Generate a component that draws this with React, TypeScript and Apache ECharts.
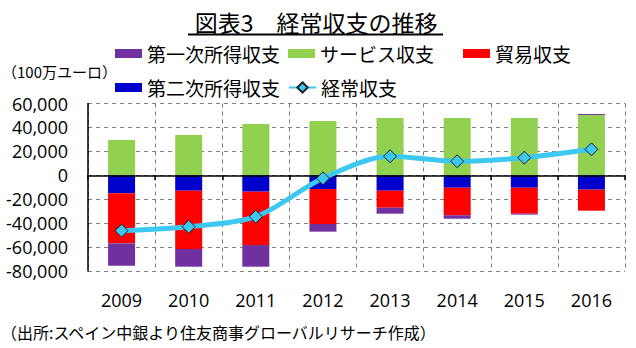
import React, { useEffect, useRef } from 'react';
import * as echarts from 'echarts';

const years = ['2009', '2010', '2011', '2012', '2013', '2014', '2015', '2016'];
const services = [29500, 33700, 42900, 45400, 47900, 47900, 47900, 50400];
const secondaryIncome = [-15000, -12900, -13700, -11500, -12900, -10400, -10400, -12000];
const trade = [-41900, -48700, -44600, -29200, -14200, -23000, -21700, -17600];
const primaryIncome = [-18700, -14800, -18100, -6400, -5000, -2900, -800, 800];
const currentAccount = [-46300, -43000, -34600, -2500, 15900, 11700, 14700, 21700];

const yMin = -80000;
const yMax = 60000;
const yInterval = 20000;

const CJK = 'Noto Sans CJK JP';
const NUM = 'Open Sans';

export default function App() {
  const ref = useRef<HTMLDivElement>(null);
  useEffect(() => {
    document.body.style.margin = '0';
    const chart = echarts.init(ref.current!, null, { renderer: 'svg' });
    const legendCommon = {
      padding: 0,
      itemWidth: 27,
      itemHeight: 9,
      selectedMode: false,
      textStyle: { fontSize: 19, color: '#000', fontFamily: CJK },
    };
    chart.setOption({
      animation: false,
      textStyle: { fontFamily: CJK },
      grid: { left: 88, right: 11, top: 103.5, bottom: 77 },
      legend: [
        { ...legendCommon, icon: 'rect', data: ['第一次所得収支'], left: 115, top: 44 },
        { ...legendCommon, icon: 'rect', data: ['サービス収支'], left: 288, top: 44 },
        { ...legendCommon, icon: 'rect', data: ['貿易収支'], left: 463, top: 44 },
        { ...legendCommon, icon: 'rect', data: ['第二次所得収支'], left: 115, top: 78 },
        { ...legendCommon, data: ['経常収支'], left: 288, top: 78, itemHeight: 13 },
      ],
      xAxis: [
        {
          type: 'category',
          data: years,
          position: 'bottom',
          axisLine: { show: false, onZero: false },
          axisTick: { show: false },
          axisLabel: { margin: 20, fontSize: 18, color: '#000', fontFamily: NUM },
          splitLine: { show: true, lineStyle: { color: '#808080', type: [4, 4], width: 1 } },
        },
        {
          type: 'category',
          data: years,
          position: 'top',
          z: 3,
          axisLine: { show: true, onZero: true, lineStyle: { color: '#000', width: 1.5 } },
          axisTick: { show: true, inside: true, length: 5, lineStyle: { color: '#000', width: 1.5 } },
          axisLabel: { show: false },
          splitLine: { show: false },
        },
      ],
      yAxis: {
        type: 'value',
        min: yMin,
        max: yMax,
        interval: yInterval,
        axisLine: { show: true, lineStyle: { color: '#000', width: 1.5 } },
        axisTick: { show: false },
        axisLabel: {
          margin: 20,
          fontSize: 18,
          color: '#000',
          fontFamily: NUM,
          formatter: (v: number) => v.toLocaleString('en-US'),
        },
        splitLine: { show: true, lineStyle: { color: '#808080', type: [4, 4], width: 1 } },
      },
      series: [
        { name: 'サービス収支', type: 'bar', stack: 'ca', xAxisIndex: 0, data: services, barWidth: 27, itemStyle: { color: '#92D050' } },
        { name: '第二次所得収支', type: 'bar', stack: 'ca', xAxisIndex: 0, data: secondaryIncome, barWidth: 27, itemStyle: { color: '#0000CC' } },
        { name: '貿易収支', type: 'bar', stack: 'ca', xAxisIndex: 0, data: trade, barWidth: 27, itemStyle: { color: '#FF0000' } },
        { name: '第一次所得収支', type: 'bar', stack: 'ca', xAxisIndex: 0, data: primaryIncome, barWidth: 27, itemStyle: { color: '#7030A0' } },
        {
          name: '経常収支',
          type: 'line',
          xAxisIndex: 0,
          data: currentAccount,
          smooth: 0.3,
          symbol: 'diamond',
          symbolSize: 13,
          z: 10,
          lineStyle: { color: '#3CC8F0', width: 5 },
          itemStyle: { color: '#3CC8F0', borderColor: '#222', borderWidth: 1 },
        },
      ],
      graphic: [
        {
          type: 'text',
          x: 316,
          y: 22,
          style: {
            text: '図表3　経常収支の推移',
            fontSize: 23,
            fontFamily: CJK,
            fill: '#000',
            textAlign: 'center',
            textVerticalAlign: 'middle',
            align: 'center',
            verticalAlign: 'middle',
          },
        },
        {
          type: 'line',
          shape: { x1: 188, y1: 34.5, x2: 443, y2: 34.5 },
          style: { stroke: '#000', lineWidth: 2 },
        },
        {
          type: 'text',
          x: 2,
          y: 71,
          style: {
            text: '（100万ユーロ）',
            fontSize: 15,
            fontFamily: CJK,
            fill: '#000',
            textVerticalAlign: 'middle',
            verticalAlign: 'middle',
          },
        },
        {
          type: 'text',
          x: 1,
          y: 332,
          style: {
            text: '（出所:スペイン中銀より住友商事グローバルリサーチ作成）',
            fontSize: 16,
            fontFamily: CJK,
            fill: '#000',
            textVerticalAlign: 'middle',
            verticalAlign: 'middle',
          },
        },
      ],
    });
    return () => chart.dispose();
  }, []);
  return <div ref={ref} style={{ width: 636, height: 348 }} />;
}
